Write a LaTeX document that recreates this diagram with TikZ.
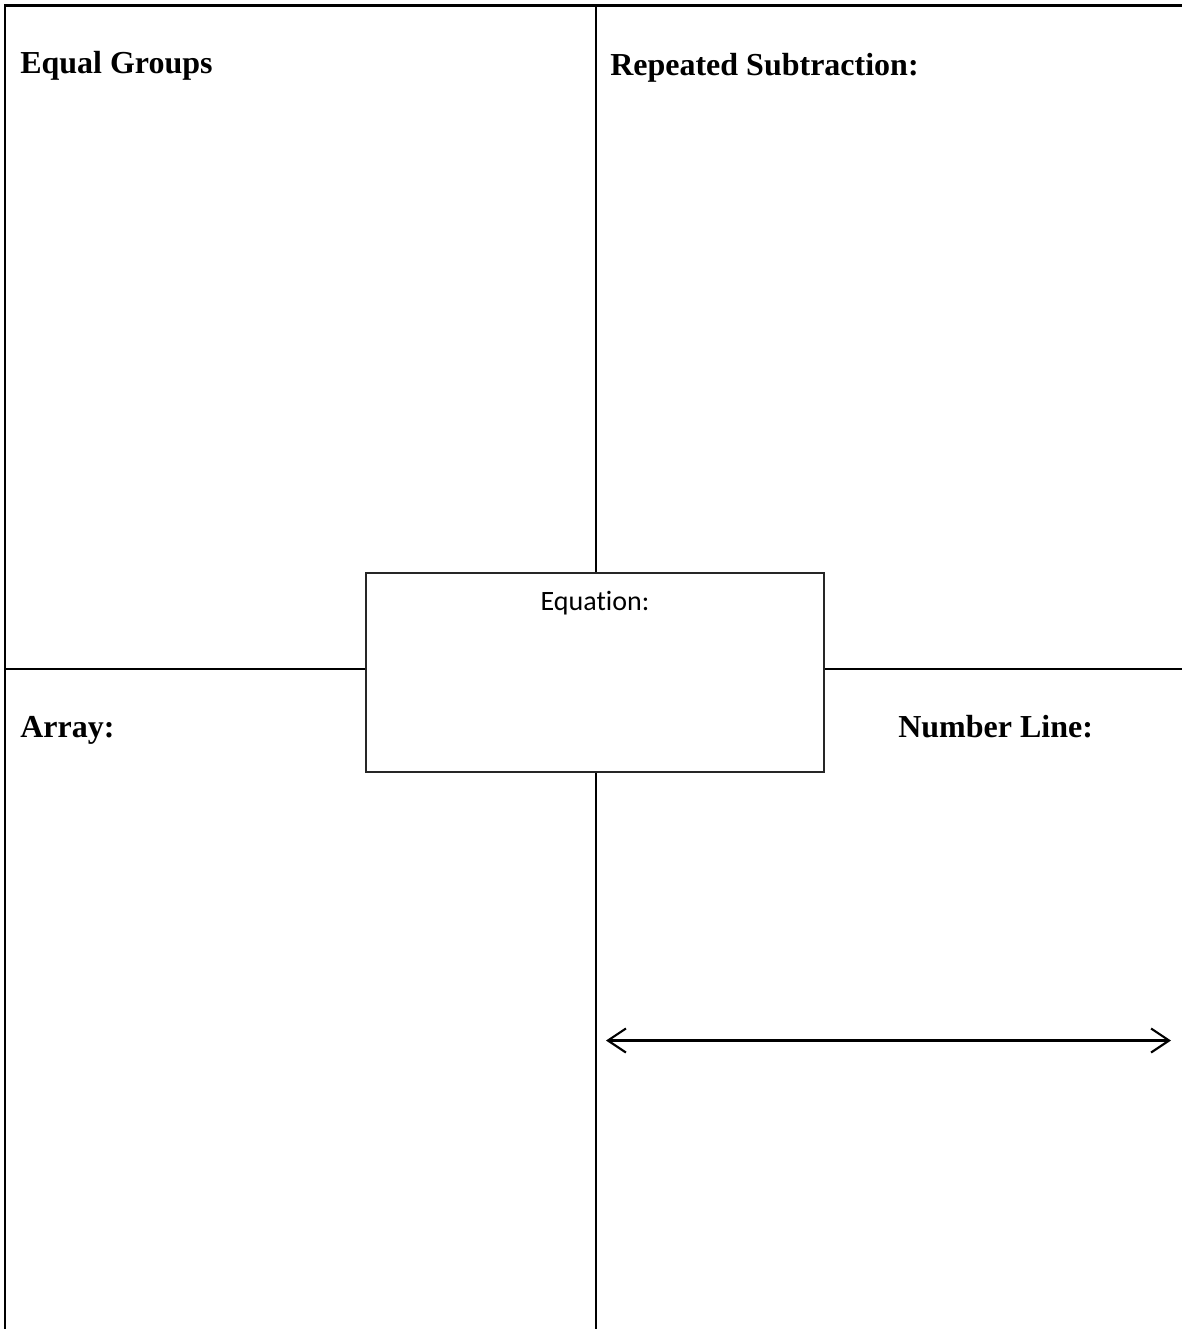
\documentclass[tikz,border=0pt]{standalone}
\usepackage{fontspec}
\setmainfont{Liberation Serif}
\newfontfamily\eqfont[Ligatures=NoCommon]{Carlito}
\usetikzlibrary{arrows.meta}
\begin{document}
\begin{tikzpicture}[x=0.75pt,y=-0.75pt,
  frame/.style={line width=1.6pt,black},
  heading/.style={anchor=base west,inner sep=0pt,font=\fontsize{24}{28}\selectfont\bfseries},
  eqbox/.style={draw=black!85,line width=1.3pt,minimum width=343.5pt,minimum height=149.25pt,inner sep=0pt},
  numline/.style={line width=1.6pt,{Straight Barb[length=13.5pt,width=18pt]}-{Straight Barb[length=13.5pt,width=18pt]}}]
\useasboundingbox (0,0) rectangle (1182,1329);
% frame corners and ends
\coordinate (tl) at (5,5.5);
\coordinate (tr) at (1182,5.5);
\coordinate (bl) at (5,1329);
\coordinate (ct) at (596,5.5);
\coordinate (cb) at (596,1329);
\coordinate (ml) at (5,669);
\coordinate (mr) at (1182,669);
% equation box
\node[eqbox,fill=white] (eq) at (595,672.5) {};
\node[anchor=base,inner sep=0pt,font=\eqfont\fontsize{21}{25}\selectfont] (eqtext) at (595,610) {Equation:};
% frame lines
\draw[frame] (bl) -- (tl) -- (tr);
\draw[frame] (ct) -- (eq.north -| ct);
\draw[frame] (eq.south -| cb) -- (cb);
\draw[frame] (ml) -- (eq.west |- ml);
\draw[frame] (eq.east |- mr) -- (mr);
% headings
\node[heading] (eg) at (20,73) {Equal Groups};
\node[heading] (rs) at (610,75) {Repeated Subtraction:};
\node[heading] (ar) at (20,737) {Array:};
\node[heading] (nl) at (898,737) {Number Line:};
% number line
\coordinate (nla) at (606,1040.5);
\coordinate (nlb) at (1171,1040.5);
\draw[numline] (nla) -- (nlb);
\end{tikzpicture}
\end{document}
